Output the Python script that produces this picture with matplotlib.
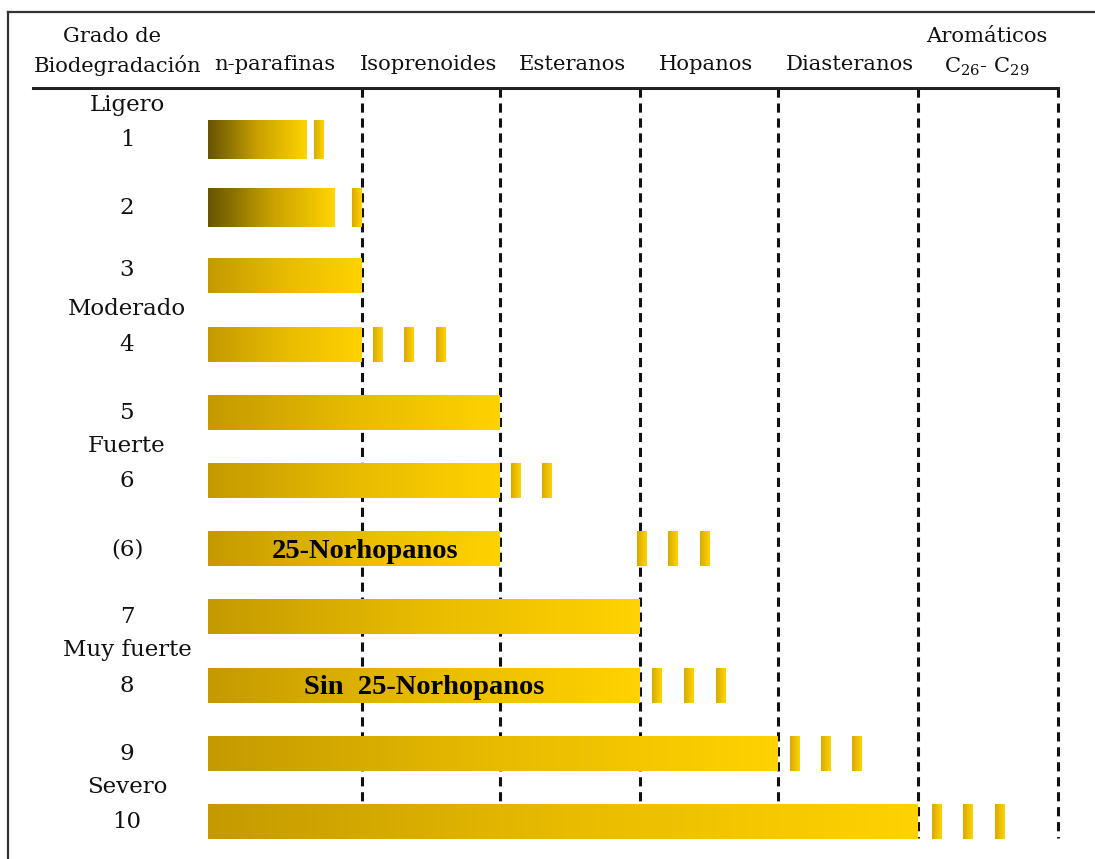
import numpy as np
import matplotlib
matplotlib.use("Agg")
import matplotlib.pyplot as plt
from matplotlib.colors import LinearSegmentedColormap

# ---------------- data ----------------
row_labels = ["1", "2", "3", "4", "5", "6", "(6)", "7", "8", "9", "10"]
grade_names = {0: "Ligero", 3: "Moderado", 5: "Fuerte", 8: "Muy fuerte", 10: "Severo"}
compounds = ["n-parafinas", "Isoprenoides", "Esteranos", "Hopanos", "Diasteranos",
             "Aromáticos\nC$_{26}$- C$_{29}$"]
# boundaries of compound columns (extent of degradation scale)
dividers = [154, 292, 432, 570, 710, 850]
# extent of complete removal per degradation level
bar_end = [99, 127, 154, 154, 292, 292, 292, 432, 432, 570, 710]
# partial-alteration markers per level (centres)
partial = [[111], [149], [], [170, 201, 233], [], [308, 339], [434, 465, 497],
           [], [449, 481, 513], [587, 618, 649], [729, 760, 792]]
bar_text = {6: "25-Norhopanos", 8: "Sin  25-Norhopanos"}

# ---------------- figure ----------------
W, H = 1095, 859
fig = plt.figure(figsize=(W / 100, H / 100), dpi=100)
ax = fig.add_axes([0, 0, 1, 1])
ax.set_axis_off()

y0_px, dy_px = 140.0, 68.2   # row 0 centre and row spacing in pixels
x0_px = 208.0
def px(x, y):
    return x / W, 1 - y / H

xlim = (-x0_px, W - x0_px)
ylim = ((H - y0_px) / dy_px, -y0_px / dy_px)

serif = "DejaVu Serif"
plt.rcParams["mathtext.fontset"] = "custom"
plt.rcParams["mathtext.rm"] = serif
plt.rcParams["mathtext.it"] = serif

dark_cmap = LinearSegmentedColormap.from_list("d", ["#665400", "#c9a000", "#ffd400"])
gold_cmap = LinearSegmentedColormap.from_list("g", ["#c49a00", "#e8bb00", "#ffd200"])
tick_cmap = LinearSegmentedColormap.from_list("t", ["#d8aa00", "#ffd400"])
grad = np.linspace(0, 1, 256).reshape(1, -1)

# frame lines (top and left)
ax.plot([px(8, 0)[0], 1.0], [px(0, 12)[1]] * 2, transform=ax.transAxes,
        color="#333333", lw=1.6, clip_on=False)
ax.plot([px(8, 0)[0]] * 2, [px(0, 12)[1], 0], transform=ax.transAxes,
        color="#333333", lw=1.6, clip_on=False)
# header rule
ax.plot([px(33, 0)[0], px(1058, 0)[0]], [px(0, 88)[1]] * 2, transform=ax.transAxes,
        color="#222222", lw=2.2, zorder=3)

# dashed dividers
top_y = (88 - y0_px) / dy_px
bot_y = (838 - y0_px) / dy_px
for d in dividers:
    ax.plot([d, d], [top_y, bot_y], color="#111111", lw=2.2,
            linestyle=(0, (3.0, 1.9)), zorder=1)

# bars
for i, end in enumerate(bar_end):
    h = 0.56 if i < 2 else 0.5
    cmap = dark_cmap if i < 2 else gold_cmap
    ax.imshow(grad, extent=[0, end, i + h / 2, i - h / 2], cmap=cmap,
              aspect="auto", interpolation="bicubic", zorder=2)
    for c in partial[i]:
        ax.imshow(grad, extent=[c - 5, c + 5, i + h / 2, i - h / 2], cmap=tick_cmap,
                  aspect="auto", interpolation="bicubic", zorder=2)
    if i in bar_text:
        ax.text(end / 2 + (11 if i == 6 else 0), i + 0.03, bar_text[i],
                ha="center", va="center", fontsize=20.5,
                family="Liberation Serif", weight="bold", color="black", zorder=4)

# row labels
for i, lab in enumerate(row_labels):
    yoff = -0.1 if i == 2 else 0.0
    ax.text(-81, i + yoff, lab, ha="center", va="center", fontsize=16.5,
            family=serif, color="#111111")
    if i in grade_names:
        ax.text(-81, i - 0.52, grade_names[i], ha="center", va="center",
                fontsize=16.5, family=serif, color="#111111")

# headers
hfs = 15.2
ax.text(*px(112, 36), "Grado de", transform=ax.transAxes, ha="center", va="center",
        fontsize=hfs, family=serif, color="#111111")
ax.text(*px(118, 65), "Biodegradación", transform=ax.transAxes, ha="center",
        va="center", fontsize=hfs, family=serif, color="#111111")
hx = [275, 429, 572, 706, 850, 987]
for x, name in zip(hx, compounds):
    if "\n" in name:
        a, b = name.split("\n")
        ax.text(*px(x, 37), a, transform=ax.transAxes, ha="center", va="center",
                fontsize=hfs, family=serif, color="#111111")
        ax.text(*px(x, 67), b, transform=ax.transAxes, ha="center", va="center",
                fontsize=hfs, family=serif, color="#111111")
    else:
        ax.text(*px(x, 65), name, transform=ax.transAxes, ha="center", va="center",
                fontsize=hfs, family=serif, color="#111111")

ax.set_xlim(*xlim)
ax.set_ylim(*ylim)
fig.savefig("out.png", dpi=100, facecolor="white")
